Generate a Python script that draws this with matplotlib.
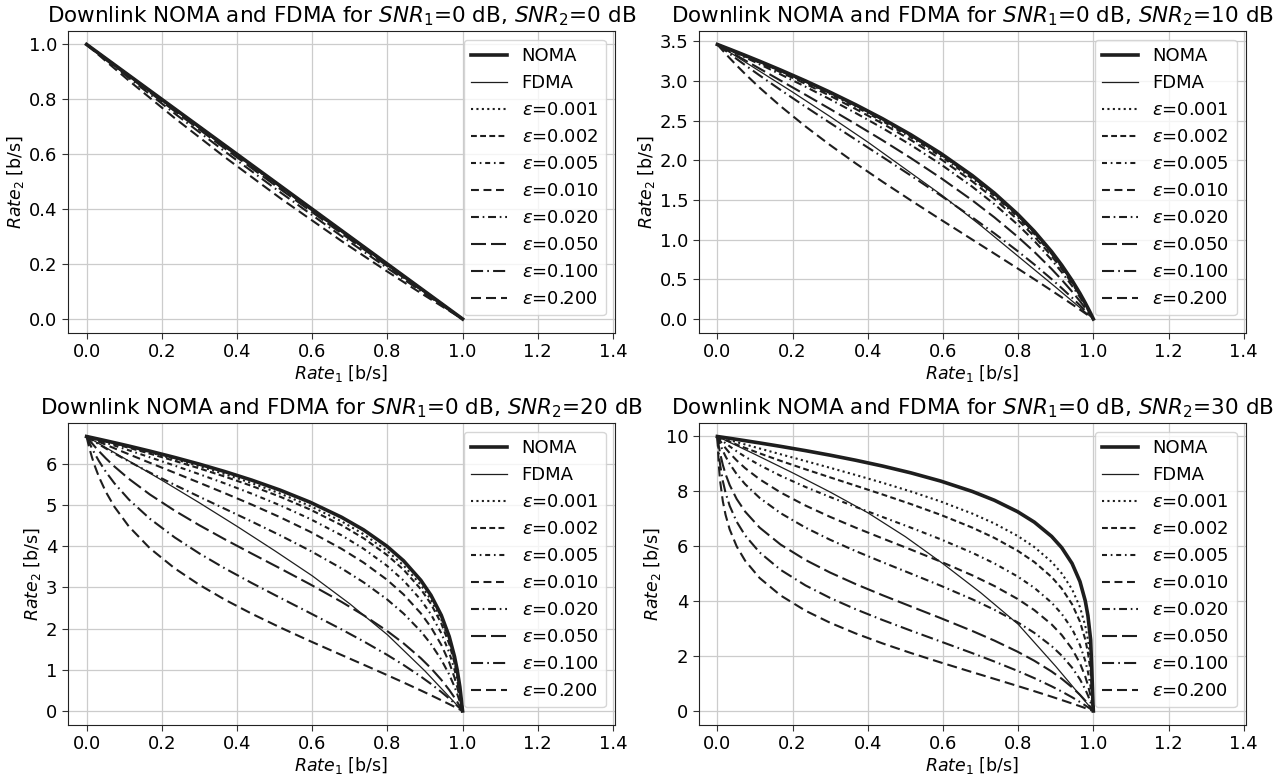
import matplotlib
matplotlib.use('Agg')
import matplotlib.pyplot as plt

# Rate_1 [b/s] read along the NOMA / imperfect-SIC curves
rate1_coarse = [0.0, 0.0072, 0.0218, 0.0514, 0.1125, 0.2345, 0.3677, 0.5146,
                0.6781, 0.7984, 0.8890, 0.9434, 0.9785, 0.9928, 1.0]
rate1 = [0.0, 0.0036, 0.0072, 0.0145, 0.0218, 0.0328, 0.0514, 0.0740, 0.1125,
         0.1681, 0.2345, 0.2996, 0.3677, 0.4393, 0.5146, 0.5940, 0.6781, 0.7370,
         0.7984, 0.8430, 0.8890, 0.9159, 0.9434, 0.9644, 0.9785, 0.9856, 0.9928, 1.0]
# Rate_1 [b/s] for the FDMA curves
fdma_rate1 = [0.0, 0.1, 0.2, 0.3, 0.4, 0.5, 0.6, 0.7, 0.8, 0.9, 1.0]

snr2_db = [0, 10, 20, 30]
eps_values = ['0.001', '0.002', '0.005', '0.010', '0.020', '0.050', '0.100', '0.200']

# SNR2 = 0 dB (on the coarse Rate_1 grid)
noma_0db = [1.0, 0.9928, 0.9782, 0.9486, 0.8875, 0.7655, 0.6323, 0.4854,
            0.3219, 0.2016, 0.1110, 0.0566, 0.0215, 0.0072, 0.0]
fdma_0db = [1.0, 0.9, 0.8, 0.7, 0.6, 0.5, 0.4, 0.3, 0.2, 0.1, 0.0]
eps_0db = [
    [1.0, 0.9928, 0.9782, 0.9486, 0.8874, 0.7653, 0.6321, 0.4852, 0.3217, 0.2015, 0.1109, 0.0566, 0.0215, 0.0072, 0.0],
    [1.0, 0.9928, 0.9782, 0.9485, 0.8873, 0.7652, 0.6319, 0.4849, 0.3215, 0.2013, 0.1108, 0.0565, 0.0215, 0.0072, 0.0],
    [1.0, 0.9928, 0.9781, 0.9484, 0.8870, 0.7646, 0.6312, 0.4842, 0.3209, 0.2009, 0.1105, 0.0564, 0.0214, 0.0072, 0.0],
    [1.0, 0.9927, 0.9780, 0.9481, 0.8865, 0.7638, 0.6301, 0.4831, 0.3199, 0.2001, 0.1101, 0.0561, 0.0213, 0.0071, 0.0],
    [1.0, 0.9926, 0.9778, 0.9476, 0.8856, 0.7620, 0.6279, 0.4807, 0.3179, 0.1986, 0.1092, 0.0556, 0.0211, 0.0071, 0.0],
    [1.0, 0.9924, 0.9772, 0.9462, 0.8826, 0.7568, 0.6211, 0.4736, 0.3117, 0.1941, 0.1064, 0.0541, 0.0205, 0.0068, 0.0],
    [1.0, 0.9921, 0.9761, 0.9438, 0.8778, 0.7482, 0.6101, 0.4620, 0.3017, 0.1868, 0.1020, 0.0517, 0.0196, 0.0065, 0.0],
    [1.0, 0.9913, 0.9740, 0.9390, 0.8681, 0.7315, 0.5894, 0.4406, 0.2838, 0.1740, 0.0943, 0.0476, 0.0180, 0.0060, 0.0],
]

# SNR2 = 10 dB
noma_10db = [3.4594, 3.4530, 3.4463, 3.4330, 3.4195, 3.3993, 3.3646, 3.3219, 3.2479, 3.1375,
             3.0, 2.8580, 2.7004, 2.5236, 2.3219, 2.0875, 1.8074, 1.5850, 1.3219, 1.1043,
             0.8480, 0.6781, 0.4854, 0.3219, 0.2016, 0.1375, 0.0704, 0.0]
fdma_10db = [3.46, 3.16, 2.86, 2.55, 2.23, 1.89, 1.55, 1.18, 0.79, 0.40, 0.0]
eps_10db = [
    [3.4594, 3.4529, 3.4462, 3.4327, 3.4191, 3.3987, 3.3637, 3.3206, 3.2460, 3.1347, 2.9962, 2.8534, 2.6950, 2.5174,
     2.3150, 2.0801, 1.7997, 1.5774, 1.3146, 1.0976, 0.8422, 0.6731, 0.4815, 0.3191, 0.1998, 0.1362, 0.0697, 0.0],
    [3.4594, 3.4528, 3.4460, 3.4325, 3.4187, 3.3981, 3.3627, 3.3193, 3.2441, 3.1320, 2.9925, 2.8488, 2.6895, 2.5112,
     2.3082, 2.0728, 1.7921, 1.5699, 1.3074, 1.0909, 0.8364, 0.6681, 0.4776, 0.3164, 0.1980, 0.1350, 0.0690, 0.0],
    [3.4594, 3.4526, 3.4456, 3.4317, 3.4176, 3.3963, 3.3600, 3.3154, 3.2383, 3.1236, 2.9812, 2.8350, 2.6733, 2.4928,
     2.2879, 2.0512, 1.7696, 1.5476, 1.2862, 1.0713, 0.8195, 0.6536, 0.4664, 0.3085, 0.1928, 0.1313, 0.0671, 0.0],
    [3.4594, 3.4523, 3.4450, 3.4304, 3.4156, 3.3933, 3.3555, 3.3090, 3.2287, 3.1098, 2.9628, 2.8125, 2.6469, 2.4629,
     2.2551, 2.0159, 1.7336, 1.5119, 1.2524, 1.0402, 0.7929, 0.6309, 0.4489, 0.2961, 0.1847, 0.1256, 0.0641, 0.0],
    [3.4594, 3.4516, 3.4437, 3.4278, 3.4117, 3.3875, 3.3464, 3.2963, 3.2098, 3.0826, 2.9267, 2.7686, 2.5960, 2.4056,
     2.1926, 1.9500, 1.6663, 1.4458, 1.1903, 0.9834, 0.7448, 0.5898, 0.4175, 0.2741, 0.1703, 0.1157, 0.0589, 0.0],
    [3.4594, 3.4497, 3.4397, 3.4200, 3.4001, 3.3702, 3.3198, 3.2587, 3.1549, 3.0049, 2.8252, 2.6469, 2.4567, 2.2517,
     2.0275, 1.7781, 1.4948, 1.2801, 1.0375, 0.8458, 0.6303, 0.4938, 0.3452, 0.2241, 0.1382, 0.0934, 0.0474, 0.0],
    [3.4594, 3.4464, 3.4332, 3.4071, 3.3809, 3.3418, 3.2767, 3.1988, 3.0689, 2.8864, 2.6746, 2.4714, 2.2609, 2.0410,
     1.8074, 1.5560, 1.2801, 1.0780, 0.8566, 0.6872, 0.5025, 0.3888, 0.2679, 0.1720, 0.1051, 0.0707, 0.0357, 0.0],
    [3.4594, 3.4399, 3.4204, 3.3818, 3.3435, 3.2871, 3.1950, 3.0875, 2.9143, 2.6818, 2.4263, 2.1926, 1.9615, 1.7300,
     1.4948, 1.2528, 1.0, 0.8231, 0.6374, 0.5010, 0.3580, 0.2730, 0.1852, 0.1174, 0.0711, 0.0476, 0.0239, 0.0],
]

# SNR2 = 20 dB
noma_20db = [6.6582, 6.6511, 6.6439, 6.6294, 6.6147, 6.5925, 6.5546, 6.5078, 6.4265, 6.3038,
             6.1497, 5.9887, 5.8074, 5.5999, 5.3576, 5.0661, 4.7004, 4.3923, 4.0, 3.6439,
             3.1699, 2.8074, 2.3219, 1.8074, 1.3219, 1.0, 0.5850, 0.0]
fdma_20db = [6.66, 6.13, 5.60, 5.05, 4.48, 3.89, 3.28, 2.60, 1.85, 0.97, 0.0]
eps_20db = [
    [6.6582, 6.6504, 6.6424, 6.6265, 6.6104, 6.5861, 6.5446, 6.4936, 6.4051, 6.2728, 6.1077, 5.9364, 5.7450, 5.5277,
     5.2756, 4.9748, 4.6003, 4.2868, 3.8900, 3.5317, 3.0576, 2.6970, 2.2171, 1.7128, 1.2421, 0.9335, 0.5408, 0.0],
    [6.6582, 6.6497, 6.6410, 6.6237, 6.6062, 6.5797, 6.5347, 6.4795, 6.3841, 6.2425, 6.0669, 5.8860, 5.6854, 5.4590,
     5.1983, 4.8892, 4.5071, 4.1891, 3.7888, 3.4290, 2.9555, 2.5971, 2.1229, 1.6286, 1.1719, 0.8756, 0.5028, 0.0],
    [6.6582, 6.6475, 6.6367, 6.6152, 6.5935, 6.5607, 6.5055, 6.4382, 6.3232, 6.1552, 5.9511, 5.7450, 5.5204, 5.2714,
     4.9896, 4.6610, 4.2617, 3.9341, 3.5269, 3.1655, 2.6959, 2.3453, 1.8886, 1.4226, 1.0036, 0.7389, 0.4157, 0.0],
    [6.6582, 6.6440, 6.6296, 6.6011, 6.5725, 6.5296, 6.4581, 6.3719, 6.2271, 6.0209, 5.7773, 5.5378, 5.2829, 5.0067,
     4.7004, 4.3507, 3.9341, 3.5983, 3.1872, 2.8280, 2.3692, 2.0331, 1.6044, 1.1800, 0.8120, 0.5874, 0.3227, 0.0],
    [6.6582, 6.6368, 6.6156, 6.5734, 6.5315, 6.4695, 6.3677, 6.2479, 6.0528, 5.7858, 5.4838, 5.1983, 4.9043, 4.5952,
     4.2617, 3.8904, 3.4594, 3.1197, 2.7127, 2.3650, 1.9324, 1.6245, 1.2448, 0.8855, 0.5898, 0.4175, 0.2231, 0.0],
    [6.6582, 6.6158, 6.5742, 6.4933, 6.4153, 6.3031, 6.1270, 5.9307, 5.6314, 5.2533, 4.8580, 4.5071, 4.1638, 3.8179,
     3.4594, 3.0753, 2.6469, 2.3219, 1.9475, 1.6414, 1.2801, 1.0375, 0.7567, 0.5115, 0.3256, 0.2241, 0.1159, 0.0],
    [6.6582, 6.5814, 6.5078, 6.3693, 6.2406, 6.0631, 5.7998, 5.5236, 5.1293, 4.6653, 4.2095, 3.8236, 3.4594, 3.1043,
     2.7473, 2.3767, 1.9787, 1.6881, 1.3668, 1.1160, 0.8354, 0.6571, 0.4619, 0.3017, 0.1868, 0.1266, 0.0644, 0.0],
    [6.6582, 6.5150, 6.3837, 6.1497, 5.9454, 5.6798, 5.3129, 4.9542, 4.4757, 3.9490, 3.4594, 3.0623, 2.7004, 2.3591,
     2.0275, 1.6966, 1.3576, 1.1220, 0.8745, 0.6915, 0.4981, 0.3819, 0.2606, 0.1660, 0.1009, 0.0677, 0.0341, 0.0],
]

# SNR2 = 30 dB
noma_30db = [9.9672, 9.9600, 9.9527, 9.9381, 9.9233, 9.9009, 9.8626, 9.8154, 9.7330, 9.6093,
             9.4533, 9.2900, 9.1059, 8.8948, 8.6474, 8.3487, 7.9715, 7.6511, 7.2384, 6.8580,
             6.3399, 5.9307, 5.3576, 4.7004, 4.0, 3.4594, 2.5850, 0.0]
fdma_30db = [9.97, 9.32, 8.65, 7.95, 7.20, 6.33, 5.35, 4.30, 3.15, 1.62, 0.0]
eps_30db = [
    [9.9672, 9.9528, 9.9384, 9.9096, 9.8807, 9.8374, 9.7651, 9.6781, 9.5317, 9.3227, 9.0754, 8.8315, 8.5710, 8.2876,
     7.9715, 7.6076, 7.1685, 6.8088, 6.3590, 5.9544, 5.4150, 4.9968, 4.4200, 3.7717, 3.0971, 2.5910, 1.8100, 0.0],
    [9.9672, 9.9456, 9.9242, 9.8816, 9.8393, 9.7767, 9.6738, 9.5527, 9.3550, 9.0839, 8.7764, 8.4844, 8.1822, 7.8624,
     7.5143, 7.1221, 6.6582, 6.2840, 5.8216, 5.4099, 4.8664, 4.4485, 3.8777, 3.2441, 2.5971, 2.1229, 1.4180, 0.0],
    [9.9672, 9.9244, 9.8825, 9.8008, 9.7219, 9.6085, 9.4302, 9.2312, 8.9269, 8.5408, 8.1344, 7.7707, 7.4114, 7.0447,
     6.6582, 6.2343, 5.7450, 5.3576, 4.8861, 4.4723, 3.9341, 3.5269, 2.9812, 2.3938, 1.8203, 1.4226, 0.8772, 0.0],
    [9.9672, 9.8897, 9.8154, 9.6754, 9.5453, 9.3655, 9.0982, 8.8170, 8.4136, 7.9352, 7.4594, 7.0507, 6.6582, 6.2668,
     5.8616, 5.4241, 4.9266, 4.5374, 4.0695, 3.6639, 3.1445, 2.7590, 2.2551, 1.7336, 1.2524, 0.9391, 0.5426, 0.0],
    [9.9672, 9.8227, 9.6900, 9.4533, 9.2462, 8.9762, 8.6018, 8.2336, 7.7381, 7.1843, 6.6582, 6.2197, 5.8074, 5.4027,
     4.9896, 4.5493, 4.0553, 3.6741, 3.2224, 2.8379, 2.3572, 2.0109, 1.5754, 1.1502, 0.7863, 0.5663, 0.3094, 0.0],
    [9.9672, 9.6384, 9.3685, 8.9396, 8.6036, 8.2039, 7.6981, 7.2384, 6.6582, 6.0444, 5.4838, 5.0288, 4.6090, 4.2040,
     3.7973, 3.3719, 2.9056, 2.5553, 2.1533, 1.8244, 1.4341, 1.1699, 0.8610, 0.5874, 0.3769, 0.2606, 0.1356, 0.0],
    [9.9672, 9.3758, 8.9542, 8.3561, 7.9277, 7.4482, 6.8735, 6.3719, 5.7583, 5.1257, 4.5596, 4.1072, 3.6957, 3.3043,
     2.9179, 2.5222, 2.1008, 1.7946, 1.4564, 1.1922, 0.8955, 0.7063, 0.4981, 0.3263, 0.2026, 0.1375, 0.0700, 0.0],
    [9.9672, 8.9614, 8.3707, 7.6221, 7.1248, 6.5925, 5.9773, 5.4548, 4.8288, 4.1964, 3.6409, 3.2054, 2.8164, 2.4545,
     2.1063, 1.7612, 1.4090, 1.1649, 0.9086, 0.7190, 0.5185, 0.3977, 0.2717, 0.1732, 0.1053, 0.0707, 0.0356, 0.0],
]

rate1_all = [rate1_coarse, rate1, rate1, rate1]
noma_all = [noma_0db, noma_10db, noma_20db, noma_30db]
fdma_all = [fdma_0db, fdma_10db, fdma_20db, fdma_30db]
eps_all = [eps_0db, eps_10db, eps_20db, eps_30db]

LINE_COLOR = '#1e1e1e'
# dash patterns for the imperfect-SIC curves (in units of line width)
EPS_DASHES = [
    (0, (1, 1.6)),
    (0, (2.8, 1.6)),
    (0, (2.4, 1.8, 0.8, 1.8)),
    (0, (3.8, 2.2)),
    (0, (3.8, 1.8, 0.8, 1.8)),
    (0, (7.2, 2.4)),
    (0, (5.8, 2.0, 0.8, 2.0)),
    (0, (4.8, 2.4)),
]

plt.rcParams['font.family'] = 'DejaVu Sans'
plt.rcParams['mathtext.fontset'] = 'dejavusans'

fig, axes = plt.subplots(2, 2, figsize=(12.86, 7.77), dpi=100)
fig.subplots_adjust(left=0.0527, right=0.9686, top=0.9605, bottom=0.0673,
                    wspace=0.153, hspace=0.298)

for ax, snr2, x, noma, fdma, eps_curves in zip(axes.flat, snr2_db, rate1_all,
                                                noma_all, fdma_all, eps_all):
    ax.plot(x, noma, color=LINE_COLOR, lw=2.6, label='NOMA')
    ax.plot(fdma_rate1, fdma, color=LINE_COLOR, lw=0.9, label='FDMA')
    for eps, rate2, ls in zip(eps_values, eps_curves, EPS_DASHES):
        ax.plot(x, rate2, color=LINE_COLOR, lw=1.5, linestyle=ls,
                label=r'$\varepsilon$=' + eps)

    ax.set_xlim(-0.05, 1.405)
    ax.set_xticks([0.0, 0.2, 0.4, 0.6, 0.8, 1.0, 1.2, 1.4])
    ax.grid(True, color='#cccccc', lw=0.9)
    ax.set_axisbelow(True)
    ax.tick_params(labelsize=13, length=4, color='#333333')
    for spine in ax.spines.values():
        spine.set_color('#222222')
    ax.set_xlabel(r'$Rate_1$ [b/s]', fontsize=12.5, labelpad=1)
    ax.set_ylabel(r'$Rate_2$ [b/s]', fontsize=12.5, labelpad=2)
    ax.set_title(r'Downlink NOMA and FDMA for $SNR_1$=0 dB, $SNR_2$=%d dB' % snr2,
                 fontsize=15.5)
    ax.legend(loc='upper right', fontsize=13)

fig.savefig('out.png', dpi=100)
